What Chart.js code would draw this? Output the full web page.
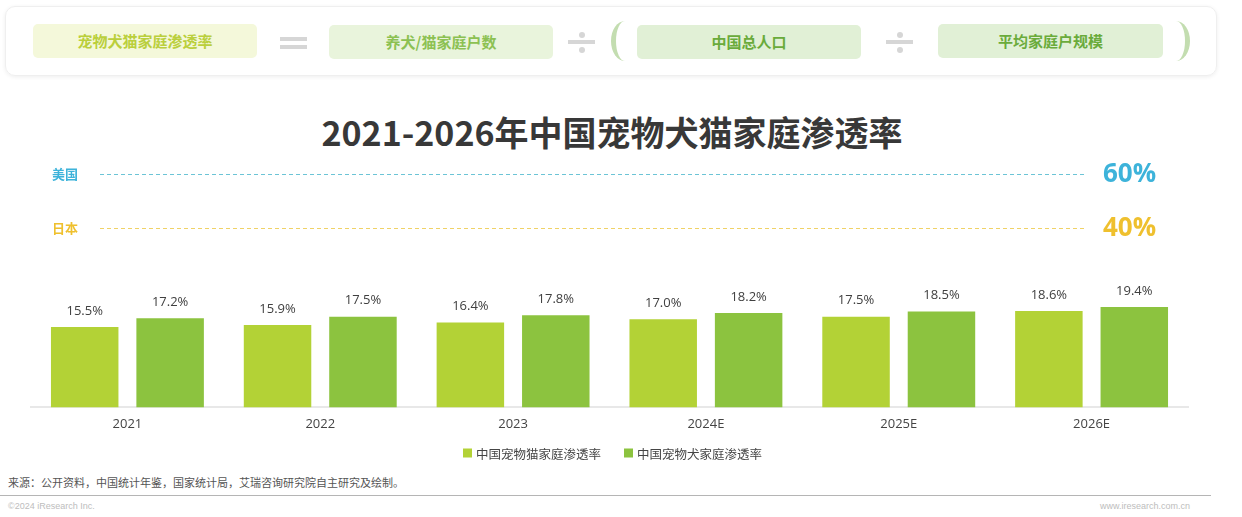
<!DOCTYPE html>
<html>
<head>
<meta charset="utf-8">
<script src="https://cdn.jsdelivr.net/npm/chart.js@4"></script>
<style>
  html, body { margin:0; padding:0; background:#fff; width:1242px; height:517px; overflow:hidden; font-family:"Noto Sans CJK SC","Noto Sans",sans-serif; }
  .abs { position:absolute; }
  #formula { left:5px; top:6px; width:1212px; height:70px; border:1px solid #efefef; border-radius:10px; box-shadow:0 1px 4px rgba(0,0,0,0.07); box-sizing:border-box; }
  .pill { position:absolute; height:34px; line-height:34px; border-radius:5px; text-align:center; font-weight:bold; font-size:15px; }
  .eq { position:absolute; width:27px; height:4px; background:#d6d6d6; }
  .dot { position:absolute; width:6px; height:6px; border-radius:3px; background:#d6d6d6; }
  .paren { position:absolute; width:14px; height:40px; box-sizing:border-box; }
  #title { left:0; top:107px; width:1224px; text-align:center; font-size:34px; font-weight:bold; color:#383838; }
  #wrap { left:0; top:150px; width:1242px; height:320px; }
  #source { left:8px; top:474px; font-size:11px; color:#555; }
  #rule { left:0; top:495px; width:1211px; height:1px; background:#b5b5b5; }
  #copy { left:8px; top:501px; font-size:9px; color:#bdbdbd; font-family:"Liberation Sans",Arial,sans-serif; }
  #site { left:1100px; top:501px; font-size:9px; color:#bdbdbd; font-family:"Liberation Sans",Arial,sans-serif; }
</style>
</head>
<body>
<div id="formula" class="abs"></div>
<div class="pill" style="left:33px;top:24px;width:224px;background:#f4f8da;color:#bacf3c;">宠物犬猫家庭渗透率</div>
<div class="eq" style="left:280px;top:37px;"></div>
<div class="eq" style="left:280px;top:45px;"></div>
<div class="pill" style="left:329px;top:25px;width:224px;background:#e9f4dc;color:#8cc152;">养犬/猫家庭户数</div>
<div class="eq" style="left:568px;top:40px;height:4px;"></div>
<div class="dot" style="left:579px;top:32px;"></div>
<div class="dot" style="left:579px;top:47px;"></div>
<div class="paren" style="left:611px;top:21px;border-left:5px solid #c3ddb0;border-radius:100% 0 0 100% / 50% 0 0 50%;"></div>
<div class="pill" style="left:637px;top:25px;width:224px;background:#e1f0d6;color:#6aab3b;">中国总人口</div>
<div class="eq" style="left:886px;top:40px;"></div>
<div class="dot" style="left:897px;top:32px;"></div>
<div class="dot" style="left:897px;top:47px;"></div>
<div class="pill" style="left:938px;top:24px;width:225px;background:#e1f0d6;color:#6aab3b;">平均家庭户规模</div>
<div class="paren" style="left:1176px;top:21px;border-right:5px solid #c3ddb0;border-radius:0 100% 100% 0 / 0 50% 50% 0;"></div>

<div id="title" class="abs">2021-2026年中国宠物犬猫家庭渗透率</div>

<div id="wrap" class="abs"><canvas id="c" width="1242" height="320"></canvas></div>

<div id="source" class="abs">来源：公开资料，中国统计年鉴，国家统计局，艾瑞咨询研究院自主研究及绘制。</div>
<div id="rule" class="abs"></div>
<div id="copy" class="abs">©2024 iResearch Inc.</div>
<div id="site" class="abs">www.iresearch.com.cn</div>

<script>
const categories = ['2021', '2022', '2023', '2024E', '2025E', '2026E'];
const catSeriesName = '中国宠物猫家庭渗透率';
const dogSeriesName = '中国宠物犬家庭渗透率';
const catValues = [15.5, 15.9, 16.4, 17.0, 17.5, 18.6];
const dogValues = [17.2, 17.5, 17.8, 18.2, 18.5, 19.4];
const benchmarkLabels = ['美国', '日本'];
const benchmarkValues = [60, 40];

const FONT = '"Open Sans","Noto Sans CJK SC",sans-serif';

const benchmarkPlugin = {
  id: 'benchmarks',
  afterDraw(chart) {
    const ctx = chart.ctx;
    const rows = [
      { y: 24, text: '#3db3da', line: '#6cc4d6' },
      { y: 78, text: '#efc02e', line: '#f0d266' }
    ];
    ctx.save();
    benchmarkLabels.forEach((lab, i) => {
      const r = rows[i];
      ctx.fillStyle = r.text;
      ctx.font = 'bold 13px "Noto Sans CJK SC",sans-serif';
      ctx.textBaseline = 'middle';
      ctx.textAlign = 'left';
      ctx.fillText(lab, 52, r.y);
      ctx.strokeStyle = r.line;
      ctx.lineWidth = 1;
      ctx.setLineDash([4, 3]);
      ctx.beginPath();
      ctx.moveTo(100, r.y + 0.5);
      ctx.lineTo(1085, r.y + 0.5);
      ctx.stroke();
      ctx.setLineDash([]);
      ctx.font = 'bold 26px ' + FONT;
      ctx.fillText(benchmarkValues[i] + '%', 1103, r.y + 1);
    });
    ctx.restore();
  }
};

const valueLabelPlugin = {
  id: 'valueLabels',
  afterDatasetsDraw(chart) {
    const ctx = chart.ctx;
    ctx.save();
    ctx.fillStyle = '#404040';
    ctx.font = '13px ' + FONT;
    ctx.textAlign = 'center';
    ctx.textBaseline = 'middle';
    chart.data.datasets.forEach((ds, di) => {
      chart.getDatasetMeta(di).data.forEach((bar, i) => {
        ctx.fillText(ds.data[i].toFixed(1) + '%', bar.x, bar.y - 16);
      });
    });
    ctx.restore();
  }
};

const legendPlugin = {
  id: 'bottomLegend',
  afterDraw(chart) {
    const ctx = chart.ctx;
    ctx.save();
    ctx.font = '12.5px "Noto Sans CJK SC",sans-serif';
    ctx.textBaseline = 'middle';
    ctx.textAlign = 'left';
    const box = 9, gapText = 4, gapItem = 23;
    const items = chart.data.datasets.map(ds => ({ label: ds.label, color: ds.backgroundColor, w: ctx.measureText(ds.label).width }));
    const total = items.reduce((s, it) => s + box + gapText + it.w, 0) + gapItem * (items.length - 1);
    const cx = (chart.chartArea.left + chart.chartArea.right) / 2;
    let x = cx - total / 2 + 3;
    const y = 303;
    items.forEach(it => {
      ctx.fillStyle = it.color;
      ctx.fillRect(x, y - box / 2, box, box);
      ctx.fillStyle = '#444';
      ctx.fillText(it.label, x + box + gapText, y + 1);
      x += box + gapText + it.w + gapItem;
    });
    ctx.restore();
  }
};

new Chart(document.getElementById('c'), {
  type: 'bar',
  data: {
    labels: categories,
    datasets: [
      { label: catSeriesName, data: catValues, backgroundColor: '#b3d236', categoryPercentage: 0.886, barPercentage: 0.79 },
      { label: dogSeriesName, data: dogValues, backgroundColor: '#8cc33f', categoryPercentage: 0.886, barPercentage: 0.79 }
    ]
  },
  options: {
    responsive: false,
    animation: false,
    devicePixelRatio: 1,
    layout: { padding: { left: 31, right: 54, top: 102, bottom: 29 } },
    scales: {
      x: {
        grid: { display: false, drawTicks: false },
        border: { display: true, color: '#e8e8e8', width: 2 },
        ticks: { color: '#444', font: { family: FONT, size: 13 }, padding: 9 }
      },
      y: { display: false, min: 0, max: 30 }
    },
    plugins: {
      legend: { display: false },
      tooltip: { enabled: false }
    }
  },
  plugins: [benchmarkPlugin, valueLabelPlugin, legendPlugin]
});
</script>
</body>
</html>
